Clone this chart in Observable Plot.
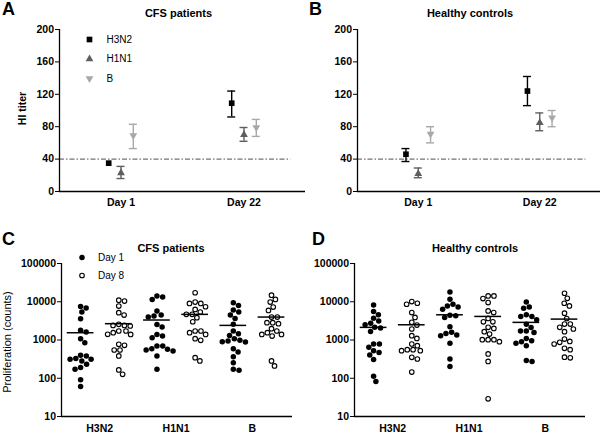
<!DOCTYPE html>
<html>
<head>
<meta charset="utf-8">
<script src="https://cdn.jsdelivr.net/npm/d3@7"></script>
<script src="https://cdn.jsdelivr.net/npm/@observablehq/plot@0.6"></script>
<style>
  body { margin: 0; background: #fff; }
  #root { position: relative; width: 600px; height: 433px; overflow: hidden; background: #fff;
          font-family: "Liberation Sans", Arial, Helvetica, sans-serif; }
  .panel { position: absolute; }
  .panel svg { overflow: visible; }
  .letter { position: absolute; font-weight: bold; font-size: 18px; line-height: 18px; }
</style>
</head>
<body>
<div id="root"></div>
<script>
// ---------- DATA ----------
const days = ["Day 1", "Day 22"];
const strains = ["H3N2", "H1N1", "B"];
const prolifDays = ["Day 1", "Day 8"];

// HI titer (rows = strains H3N2, H1N1, B ; columns = Day 1, Day 22)
const cfsMean = [[35, 109], [23, 70], [69, 79]];
const cfsLow  = [[null, 92], [16, 62], [53, 68]];
const cfsHigh = [[null, 124], [31, 79], [83, 89]];
const hcMean  = [[46, 124], [22, 85], [71, 91]];
const hcLow   = [[37, 106], [17, 75], [60, 80]];
const hcHigh  = [[53, 142], [29, 97], [80, 100]];
const protectiveTiter = 40;

// Proliferation counts, CFS patients
const cfsH3N2Day1 = [5370, 6840, 7550, 3600, 1620, 1790, 1080, 850, 383, 313, 326, 398, 313, 283, 190, 172, 232, 91, 61];
const cfsH3N2Day8 = [10400, 11000, 7700, 5170, 4490, 2410, 2320, 2410, 2570, 1720, 1410, 1550, 1720, 1400, 726, 771, 548, 548, 383, 165, 127];
const cfsH1N1Day1 = [14060, 11500, 13250, 5710, 4230, 3980, 4490, 2180, 2560, 1400, 1150, 1270, 571, 517, 697, 594, 697, 548, 383, 172];
const cfsH1N1Day8 = [17170, 9050, 9800, 9050, 6310, 7400, 5370, 4680, 4680, 3000, 3830, 1550, 1085, 1720, 980, 1720, 1400, 283, 346];
const cfsBDay1    = [9420, 8020, 6060, 4490, 5370, 3670, 2570, 1720, 1460, 1320, 980, 1085, 887, 942, 906, 594, 486, 367, 256, 162, 172];
const cfsBDay8    = [14900, 11500, 9800, 7260, 5940, 3980, 3980, 2830, 2670, 2830, 1980, 1720, 1550, 1400, 1270, 1400, 210, 283];
const cfsProlifMeans = [1550, 2670, 3330, 4680, 2410, 3980];

// Proliferation counts, healthy controls
const hcH3N2Day1 = [8260, 5530, 4540, 3720, 3160, 2750, 2490, 2140, 1680, 2060, 787, 644, 787, 527, 406, 468, 307, 113, 82];
const hcH3N2Day8 = [8600, 9140, 10100, 5210, 3900, 2890, 1940, 2460, 1100, 1300, 711, 787, 527, 560, 560, 527, 353, 319, 145];
const hcH1N1Day1 = [18000, 8600, 11600, 6370, 7330, 7780, 4470, 3880, 4300, 2220, 1490, 1590, 1300, 1350, 818, 321, 203];
const hcH1N1Day8 = [14200, 12100, 14200, 9500, 5770, 5220, 3660, 2990, 2990, 2010, 1650, 2140, 1430, 1020, 906, 1020, 1020, 433, 275, 29];
const hcBDay1    = [9900, 6760, 7330, 4100, 4540, 4100, 3360, 2590, 2120, 1730, 1570, 1730, 1100, 905, 960, 818, 711, 273, 290];
const hcBDay8    = [16700, 12300, 9140, 7780, 5040, 3650, 2610, 2610, 2140, 1940, 1650, 920, 1060, 870, 787, 607, 560, 341, 355];
const hcProlifMeans = [2140, 2500, 4560, 4130, 2890, 3520];

const titerTicks = [0, 40, 80, 120, 160, 200];
const prolifTicks = [10, 100, 1000, 10000, 100000];

// ---------- STYLE ----------
const FONT = '"Liberation Sans", Arial, Helvetica, sans-serif';
const strainColors = ["#000000", "#5e5e5e", "#a8a8a8"];
const triangleDown = {
  draw(ctx, size) {
    const y = -Math.sqrt(size / (Math.sqrt(3) * 3));
    ctx.moveTo(0, -y * 2);
    ctx.lineTo(-Math.sqrt(3) * y, y);
    ctx.lineTo(Math.sqrt(3) * y, y);
    ctx.closePath();
  }
};
const strainSymbols = ["square", "triangle", triangleDown];
const strainR = [3.2, 2.9, 2.9];
const xDomainAB = [0.5, 2.5];
const refLineEnd = 2.38;

const root = document.getElementById("root");
function place(node, left, top, width) {
  const div = document.createElement("div");
  div.className = "panel";
  div.style.left = left + "px";
  div.style.top = top + "px";
  div.style.width = width + "px";
  div.appendChild(node);
  root.appendChild(div);
}
function letter(txt, left, top) {
  const d = document.createElement("div");
  d.className = "letter";
  d.textContent = txt;
  d.style.left = left + "px";
  d.style.top = top + "px";
  root.appendChild(d);
}

// ---------- TITER PANELS ----------
function titerPanel({mean, low, high, title, titleDx, legend, yLabel, width, ml, mr}) {
  const rows = [];
  strains.forEach((s, si) => days.forEach((d, di) =>
    rows.push({si, d: di + 1, m: mean[si][di], lo: low[si][di], hi: high[si][di]})));
  const marks = [];
  marks.push(Plot.ruleY([protectiveTiter], {x1: xDomainAB[0], x2: refLineEnd, stroke: "#222", strokeWidth: 0.8, strokeDasharray: "5,2,1.5,2"}));
  strains.forEach((s, si) => {
    const data = rows.filter(r => r.si === si);
    const bars = data.filter(r => r.lo != null);
    const dx = (si - 1) * 12.3;
    const c = strainColors[si];
    marks.push(Plot.ruleX(bars, {x: "d", y1: "lo", y2: "hi", dx, stroke: c, strokeWidth: 1.4}));
    marks.push(Plot.ruleY(bars, {y: "hi", x1: "d", x2: "d", dx, insetLeft: -4, insetRight: -4, stroke: c, strokeWidth: 1.4}));
    marks.push(Plot.ruleY(bars, {y: "lo", x1: "d", x2: "d", dx, insetLeft: -4, insetRight: -4, stroke: c, strokeWidth: 1.4}));
    marks.push(Plot.dot(data, {x: "d", y: "m", dx, symbol: strainSymbols[si], r: strainR[si], fill: c, stroke: null}));
  });
  marks.push(Plot.ruleX([xDomainAB[0]], {y1: titerTicks[0], y2: titerTicks[titerTicks.length - 1], strokeWidth: 1.3}));
  marks.push(Plot.ruleY([titerTicks[0]], {x1: xDomainAB[0], x2: xDomainAB[1], strokeWidth: 1.3}));
  marks.push(Plot.text([title], {text: d => d, frameAnchor: "top", dy: -16, dx: titleDx, fontSize: 11, lineAnchor: "middle", textAnchor: "middle"}));
  if (yLabel) {
    marks.push(Plot.text([yLabel], {text: d => d, frameAnchor: "left", dx: -37, dy: -2, rotate: -90, fontSize: 10.5, textAnchor: "middle", lineAnchor: "middle"}));
  }
  if (legend) {
    strains.forEach((s, si) => {
      marks.push(Plot.dot([s], {frameAnchor: "top-left", dx: 30, dy: 10 + si * 19.5, symbol: strainSymbols[si], r: strainR[si], fill: strainColors[si], stroke: null}));
      marks.push(Plot.text([s], {text: d => d, frameAnchor: "top-left", dx: 47, dy: 10 + si * 19.5, textAnchor: "start", lineAnchor: "middle", fontWeight: "normal", fontSize: 10}));
    });
  }
  return Plot.plot({
    width, height: 215,
    marginLeft: ml, marginRight: mr, marginTop: 29, marginBottom: 24,
    style: {fontFamily: FONT, fontSize: "10.5px", fontWeight: "bold", background: "transparent", overflow: "visible", color: "#000"},
    x: {type: "linear", domain: xDomainAB, ticks: days.map((d, i) => i + 1), tickFormat: v => days[v - 1], tickSize: 0, tickPadding: 7, label: null},
    y: {domain: [titerTicks[0], titerTicks[titerTicks.length - 1]], ticks: titerTicks, tickSize: 4, tickPadding: 1.5, label: null},
    marks
  });
}

// ---------- PROLIFERATION PANELS ----------
function swarmOffsets(values, yPx, r) {
  const D = 2 * r + 0.3;
  const placed = [];
  const off = new Array(values.length);
  const order = values.map((v, i) => i).sort((a, b) => values[b] - values[a]);
  for (const i of order) {
    const y = yPx(values[i]);
    const near = placed.filter(p => Math.abs(p.y - y) < D);
    const cands = [0];
    for (const p of near) {
      const w = Math.sqrt(D * D - (p.y - y) ** 2);
      cands.push(p.x + w, p.x - w);
    }
    cands.sort((a, b) => Math.abs(a) - Math.abs(b));
    const x = cands.find(c => near.every(p => (p.x - c) ** 2 + (p.y - y) ** 2 >= D * D - 1e-6));
    placed.push({x, y});
    off[i] = x;
  }
  return off;
}

function prolifPanel({groups, means, title, titleDx, legend, yLabel, width, ml, mr}) {
  const height = 218, mt = 48, mb = 17;
  const xDomain = [-0.5, 5.55];
  const yPx = d3.scaleLog().domain([prolifTicks[0], prolifTicks[prolifTicks.length - 1]]).range([height - mb, mt]);
  const pxPerUnit = (width - ml - mr) / (xDomain[1] - xDomain[0]);
  const r = 2.75;
  const pts = [];
  groups.forEach((vals, g) => {
    const off = swarmOffsets(vals, yPx, r);
    vals.forEach((v, i) => pts.push({g, v, x: g + off[i] / pxPerUnit, day: prolifDays[g % 2]}));
  });
  const meanRows = means.map((v, g) => ({g, v}));
  const marks = [
    Plot.dot(pts.filter(p => p.day === prolifDays[0]), {x: "x", y: "v", r, fill: "#000", stroke: null}),
    Plot.dot(pts.filter(p => p.day === prolifDays[1]), {x: "x", y: "v", r: r - 0.45, fill: "#fff", stroke: "#000", strokeWidth: 1.1}),
    Plot.ruleY(meanRows, {y: "v", x1: d => d.g - 0.35, x2: d => d.g + 0.35, stroke: "#000", strokeWidth: 1.5}),
    Plot.ruleX([xDomain[0]], {y1: prolifTicks[0], y2: prolifTicks[prolifTicks.length - 1], strokeWidth: 1.3}),
    Plot.ruleY([prolifTicks[0]], {x1: xDomain[0], x2: xDomain[1], strokeWidth: 1.3}),
    Plot.text([title], {text: d => d, frameAnchor: "top", dy: -15, dx: titleDx, fontSize: 11, lineAnchor: "middle", textAnchor: "middle"})
  ];
  if (yLabel) {
    marks.push(Plot.text([yLabel], {text: d => d, frameAnchor: "left", dx: -54, dy: 2, rotate: -90, fontSize: 11, fontWeight: "normal", textAnchor: "middle", lineAnchor: "middle"}));
  }
  if (legend) {
    prolifDays.forEach((d, i) => {
      marks.push(Plot.dot([d], {frameAnchor: "top-left", dx: 20.5, dy: -6 + i * 18, r: i === 0 ? r : r - 0.45,
        fill: i === 0 ? "#000" : "#fff", stroke: i === 0 ? null : "#000", strokeWidth: 1.1}));
      marks.push(Plot.text([d], {text: t => t, frameAnchor: "top-left", dx: 36.5, dy: -6 + i * 18, textAnchor: "start", lineAnchor: "middle", fontWeight: "normal", fontSize: 10}));
    });
  }
  return Plot.plot({
    width, height,
    marginLeft: ml, marginRight: mr, marginTop: mt, marginBottom: mb,
    style: {fontFamily: FONT, fontSize: "10.5px", fontWeight: "bold", background: "transparent", overflow: "visible", color: "#000"},
    x: {type: "linear", domain: xDomain, ticks: strains.map((s, i) => 2 * i + 0.5), tickFormat: v => strains[(v - 0.5) / 2], tickSize: 0, tickPadding: 8, label: null},
    y: {type: "log", domain: [prolifTicks[0], prolifTicks[prolifTicks.length - 1]], ticks: prolifTicks, tickFormat: v => String(v), tickSize: 4, tickPadding: 1.5, label: null},
    marks
  });
}

// ---------- RENDER ----------
place(titerPanel({mean: cfsMean, low: cfsLow, high: cfsHigh, title: "CFS patients", titleDx: -4,
  legend: true, yLabel: "HI titer", width: 308, ml: 59, mr: 3}), 0, 0, 308);
place(titerPanel({mean: hcMean, low: hcLow, high: hcHigh, title: "Healthy controls", titleDx: -9,
  legend: false, yLabel: null, width: 300, ml: 57, mr: 0}), 300, 0, 300);
place(prolifPanel({groups: [cfsH3N2Day1, cfsH3N2Day8, cfsH1N1Day1, cfsH1N1Day8, cfsBDay1, cfsBDay8],
  means: cfsProlifMeans, title: "CFS patients", titleDx: -6, legend: true, yLabel: "Proliferation (counts)",
  width: 300, ml: 61, mr: 8}), 0, 215, 300);
place(prolifPanel({groups: [hcH3N2Day1, hcH3N2Day8, hcH1N1Day1, hcH1N1Day8, hcBDay1, hcBDay8],
  means: hcProlifMeans, title: "Healthy controls", titleDx: 5, legend: false, yLabel: null,
  width: 300, ml: 54, mr: 15}), 300, 215, 300);

letter("A", 2, 0);
letter("B", 309, 0);
letter("C", 2, 230);
letter("D", 312, 230);
</script>
</body>
</html>
